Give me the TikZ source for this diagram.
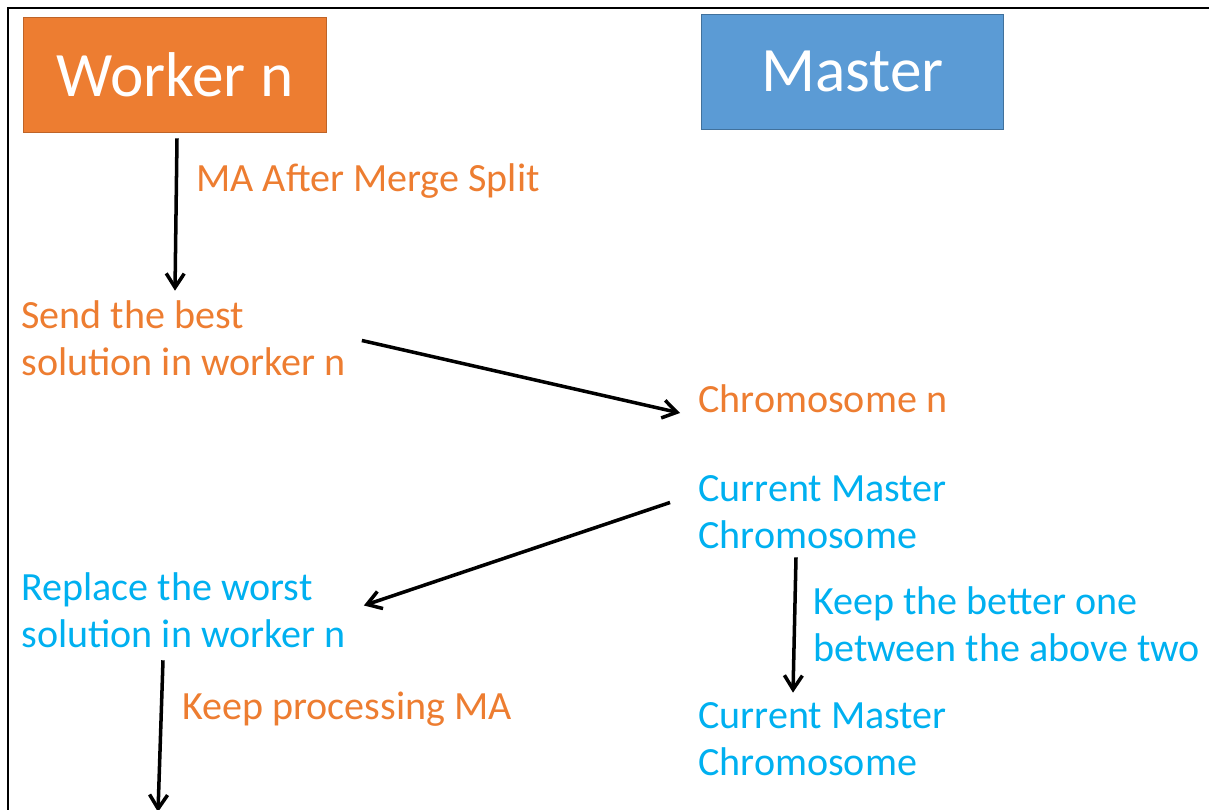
\documentclass[tikz,border=0pt]{standalone}
\usepackage{fontspec}
\setmainfont{Carlito}
\usetikzlibrary{positioning, arrows.meta, calc}
\definecolor{cOrange}{RGB}{237,125,49}
\definecolor{cOrangeDk}{RGB}{190,100,40}
\definecolor{cBlue}{RGB}{91,155,213}
\definecolor{cBlueDk}{RGB}{65,113,156}
\definecolor{cCyan}{RGB}{0,176,240}

\begin{document}
\begin{tikzpicture}[x=0.02cm, y=-0.02cm,
    headbox/.style={rectangle, minimum width=6.05cm, minimum height=2.3cm, inner sep=0pt,
        line width=0.5pt, text=white, font=\fontsize{36}{43}\selectfont},
    stepnote/.style={anchor=west, align=left, inner sep=0pt, font=\fontsize{22.8}{26.6}\selectfont},
    flow/.style={line width=2pt, -{Straight Barb[length=2.8mm, width=3.6mm, line width=2pt]}}]
    \useasboundingbox (0,0) rectangle (1209,810);

    % Frame
    \draw[line width=1.3pt] (8,812) -- (8,8) -- (1211,8);

    % Heading boxes
    \node[headbox, fill=cOrange, draw=cOrangeDk] (worker) at (175,74.5) {Worker n};
    \node[headbox, fill=cBlue, draw=cBlueDk] (master) at (852.5,71.5) {Master};

    % Worker side
    \node[stepnote, text=cOrange] (send) at (21,338.5) {Send the best\\solution in worker n};
    \node[stepnote, text=cCyan] (replace) at (21,610.5) {Replace the worst\\solution in worker n};
    \node[stepnote, text=cOrange] (lblmerge) at (196,181) {MA After Merge Split};
    \node[stepnote, text=cOrange] (lblkeep) at (182,709) {Keep processing MA};

    % Master side
    \node[stepnote, text=cOrange] (chromo) at (698,399) {Chromosome n};
    \node[stepnote, text=cCyan] (curmaster) at (698,512.5) {Current Master\\Chromosome};
    \node[stepnote, text=cCyan] (newmaster) at (698,739.5) {Current Master\\Chromosome};
    \node[stepnote, text=cCyan] (lblbetter) at (813,624.5) {Keep the better one\\between the above two};

    % Arrows
    \coordinate (outend) at (158,812);
    \draw[flow] ($(worker.south)+(2,6)$) -- ($(send.north west)+(154,-10)$);
    \draw[flow] ($(send.east)+(16,2)$) -- ($(chromo.west)+(-18,14)$);
    \draw[flow] ($(curmaster.west)+(-28,-10)$) -- ($(replace.east)+(18,-5)$);
    \draw[flow] ($(curmaster.south west)+(98,8)$) -- ($(newmaster.north west)+(95,-10)$);
    \draw[flow] ($(replace.south west)+(142,12)$) -- (outend);
\end{tikzpicture}
\end{document}
